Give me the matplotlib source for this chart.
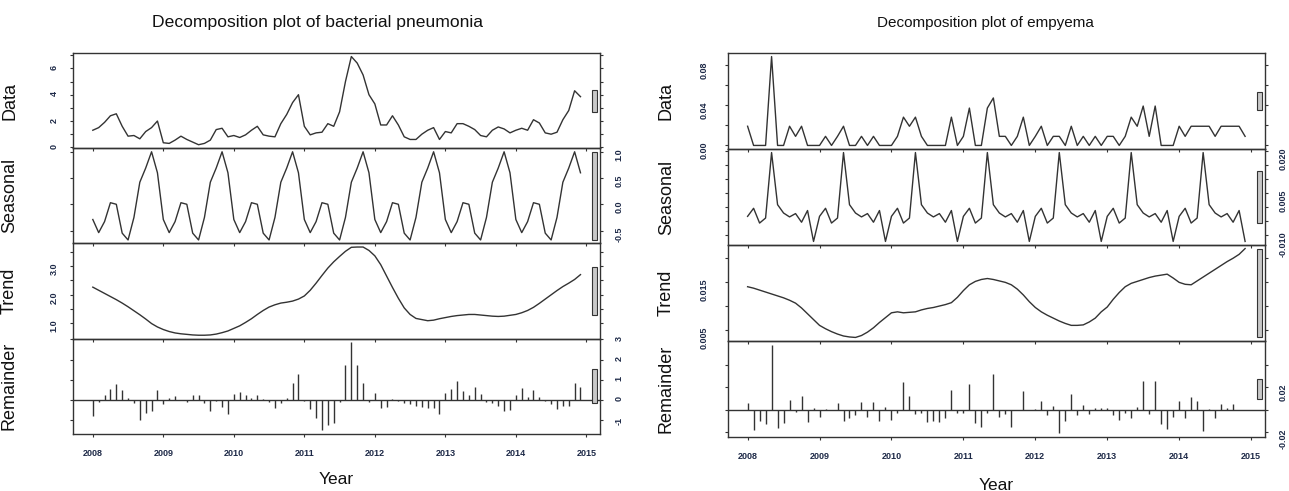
"""STL decomposition plots: bacterial pneumonia and empyema, 2008-2014 monthly"""

import matplotlib
matplotlib.use("Agg")
import matplotlib.pyplot as plt
import matplotlib.transforms as mtransforms
from matplotlib.patches import Rectangle
from matplotlib.ticker import FixedLocator, FuncFormatter
import numpy as np

plt.rcParams["font.family"] = ["Liberation Sans", "DejaVu Sans"]

# ---- data (monthly, Jan 2008 .. Dec 2014) ----
year_ticks = [2008, 2009, 2010, 2011, 2012, 2013, 2014, 2015]
panel_names = ["Data", "Seasonal", "Trend", "Remainder"]

pneu_data = [
    1.30, 1.50, 1.90, 2.40, 2.55, 1.60, 0.85, 0.90, 0.65, 1.20, 1.50, 2.00,
    0.35, 0.30, 0.55, 0.85, 0.60, 0.40, 0.20, 0.30, 0.55, 1.35, 1.45, 0.80,
    0.90, 0.75, 0.95, 1.30, 1.60, 0.95, 0.85, 0.80, 1.80, 2.50, 3.40, 4.00,
    1.60, 0.95, 1.10, 1.15, 1.80, 1.60, 2.70, 5.00, 6.90, 6.40, 5.50, 4.00,
    3.30, 1.70, 1.70, 2.40, 1.70, 0.80, 0.60, 0.60, 1.00, 1.30, 1.50, 0.60,
    1.20, 1.10, 1.80, 1.80, 1.60, 1.35, 0.90, 0.80, 1.30, 1.55, 1.40, 1.10,
    1.30, 1.45, 1.30, 2.10, 1.85, 1.10, 1.00, 1.15, 2.10, 2.80, 4.30, 3.85,
]
pneu_seasonal = [
    -0.29, -0.54, -0.33, 0.03, 0.00, -0.55, -0.68, -0.25, 0.42, 0.69, 1.00, 0.60,
    -0.29, -0.54, -0.33, 0.03, 0.00, -0.55, -0.68, -0.25, 0.42, 0.69, 1.00, 0.60,
    -0.29, -0.54, -0.33, 0.03, 0.00, -0.55, -0.68, -0.25, 0.42, 0.69, 1.00, 0.60,
    -0.29, -0.54, -0.33, 0.03, 0.00, -0.55, -0.68, -0.25, 0.42, 0.69, 1.00, 0.60,
    -0.29, -0.54, -0.33, 0.03, 0.00, -0.55, -0.68, -0.25, 0.42, 0.69, 1.00, 0.60,
    -0.29, -0.54, -0.33, 0.03, 0.00, -0.55, -0.68, -0.25, 0.42, 0.69, 1.00, 0.60,
    -0.29, -0.54, -0.33, 0.03, 0.00, -0.55, -0.68, -0.25, 0.42, 0.69, 1.00, 0.60,
]
pneu_trend = [
    2.26, 2.15, 2.04, 1.93, 1.82, 1.70, 1.57, 1.43, 1.29, 1.14, 0.98, 0.86,
    0.77, 0.70, 0.65, 0.62, 0.60, 0.58, 0.57, 0.57, 0.58, 0.61, 0.66, 0.72,
    0.81, 0.90, 1.02, 1.15, 1.30, 1.44, 1.56, 1.64, 1.70, 1.73, 1.77, 1.84,
    1.95, 2.15, 2.40, 2.67, 2.93, 3.15, 3.34, 3.52, 3.66, 3.67, 3.67, 3.55,
    3.36, 3.05, 2.65, 2.25, 1.87, 1.53, 1.30, 1.16, 1.12, 1.08, 1.10, 1.15,
    1.19, 1.23, 1.26, 1.28, 1.30, 1.30, 1.28, 1.26, 1.24, 1.23, 1.24, 1.27,
    1.30, 1.36, 1.44, 1.55, 1.69, 1.84, 1.99, 2.14, 2.28, 2.40, 2.53, 2.70,
]
pneu_remainder = [
    -0.78, -0.12, 0.22, 0.55, 0.80, 0.47, 0.08, -0.17, -0.98, -0.63, -0.55, 0.50,
    -0.23, 0.08, 0.17, 0.00, -0.12, 0.22, 0.22, -0.17, -0.55, -0.05, -0.35, -0.70,
    0.27, 0.37, 0.24, 0.08, 0.24, 0.02, -0.09, -0.38, -0.16, 0.08, 0.86, 1.29,
    -0.06, -0.43, -0.92, -1.52, -1.27, -1.17, -0.11, 1.74, 2.86, 1.71, 0.86, -0.13,
    0.33, -0.41, -0.36, 0.04, -0.06, -0.16, -0.19, -0.29, -0.36, -0.41, -0.41, -0.72,
    0.33, 0.53, 0.96, 0.43, 0.24, 0.63, 0.31, -0.13, -0.18, -0.31, -0.56, -0.48,
    0.24, 0.57, 0.12, 0.51, 0.12, -0.06, -0.21, -0.46, -0.31, -0.28, 0.86, 0.63,
]

emp_data = [
    0.019, 0.000, 0.000, 0.000, 0.088, 0.000, 0.000, 0.019, 0.009, 0.019, 0.000, 0.000,
    0.000, 0.009, 0.000, 0.009, 0.019, 0.000, 0.000, 0.009, 0.000, 0.009, 0.000, 0.000,
    0.000, 0.009, 0.028, 0.019, 0.028, 0.009, 0.000, 0.000, 0.000, 0.000, 0.028, 0.000,
    0.009, 0.037, 0.000, 0.000, 0.037, 0.047, 0.009, 0.009, 0.000, 0.009, 0.028, 0.000,
    0.009, 0.019, 0.000, 0.009, 0.009, 0.000, 0.019, 0.000, 0.009, 0.000, 0.009, 0.000,
    0.009, 0.009, 0.000, 0.009, 0.028, 0.019, 0.039, 0.009, 0.039, 0.000, 0.000, 0.000,
    0.019, 0.009, 0.019, 0.019, 0.019, 0.019, 0.009, 0.019, 0.019, 0.019, 0.019, 0.009,
]
emp_seasonal = [
    -0.0034, -0.0005, -0.0058, -0.0040, 0.0195, 0.0008, -0.0022, -0.0036, -0.0024, -0.0055, -0.0013, -0.0124,
    -0.0034, -0.0005, -0.0058, -0.0040, 0.0195, 0.0008, -0.0022, -0.0036, -0.0024, -0.0055, -0.0013, -0.0124,
    -0.0034, -0.0005, -0.0058, -0.0040, 0.0195, 0.0008, -0.0022, -0.0036, -0.0024, -0.0055, -0.0013, -0.0124,
    -0.0034, -0.0005, -0.0058, -0.0040, 0.0195, 0.0008, -0.0022, -0.0036, -0.0024, -0.0055, -0.0013, -0.0124,
    -0.0034, -0.0005, -0.0058, -0.0040, 0.0195, 0.0008, -0.0022, -0.0036, -0.0024, -0.0055, -0.0013, -0.0124,
    -0.0034, -0.0005, -0.0058, -0.0040, 0.0195, 0.0008, -0.0022, -0.0036, -0.0024, -0.0055, -0.0013, -0.0124,
    -0.0034, -0.0005, -0.0058, -0.0040, 0.0195, 0.0008, -0.0022, -0.0036, -0.0024, -0.0055, -0.0013, -0.0124,
]
emp_trend = [
    0.0140, 0.0137, 0.0133, 0.0129, 0.0125, 0.0121, 0.0117, 0.0112, 0.0106, 0.0096, 0.0084, 0.0072,
    0.0060, 0.0053, 0.0047, 0.0042, 0.0038, 0.0036, 0.0035, 0.0039, 0.0046, 0.0055, 0.0066, 0.0076,
    0.0086, 0.0088, 0.0086, 0.0087, 0.0088, 0.0092, 0.0095, 0.0097, 0.0100, 0.0103, 0.0107, 0.0118,
    0.0132, 0.0144, 0.0151, 0.0155, 0.0157, 0.0155, 0.0152, 0.0149, 0.0144, 0.0135, 0.0123, 0.0109,
    0.0097, 0.0088, 0.0081, 0.0075, 0.0069, 0.0064, 0.0060, 0.0060, 0.0061, 0.0067, 0.0075, 0.0088,
    0.0098, 0.0114, 0.0128, 0.0140, 0.0147, 0.0151, 0.0155, 0.0159, 0.0162, 0.0164, 0.0166, 0.0158,
    0.0149, 0.0145, 0.0144, 0.0152, 0.0160, 0.0168, 0.0176, 0.0184, 0.0192, 0.0199, 0.0207, 0.0219,
]
emp_remainder = [
    0.0060, -0.0180, -0.0100, -0.0130, 0.0580, -0.0160, -0.0120, 0.0090, -0.0015, 0.0120, -0.0110, 0.0020,
    -0.0060, 0.0010, -0.0006, 0.0065, -0.0095, -0.0075, -0.0050, 0.0070, -0.0060, 0.0070, -0.0095, 0.0025,
    -0.0090, -0.0030, 0.0245, 0.0125, -0.0035, -0.0030, -0.0110, -0.0095, -0.0110, -0.0075, 0.0180, -0.0025,
    -0.0030, 0.0230, -0.0120, -0.0150, -0.0030, 0.0317, -0.0060, -0.0035, -0.0150, 0.0000, 0.0170, -0.0006,
    0.0006, 0.0080, -0.0045, 0.0035, -0.0210, -0.0100, 0.0140, -0.0050, 0.0040, -0.0035, 0.0018, 0.0018,
    0.0018, -0.0050, -0.0090, -0.0030, -0.0075, 0.0024, 0.0260, -0.0035, 0.0260, -0.0130, -0.0170, -0.0060,
    0.0074, -0.0075, 0.0110, 0.0074, -0.0187, 0.0006, -0.0077, 0.0050, 0.0020, 0.0050, -0.0006, -0.0006,
]

# y-axis ticks per panel: (tick positions, labelled positions, format)
pneu_axes = [
    ([0, 1, 2, 3, 4, 5, 6, 7], [0, 2, 4, 6], "%d"),
    ([-0.5, 0.0, 0.5, 1.0], [-0.5, 0.0, 0.5, 1.0], "%.1f"),
    ([1.0, 1.5, 2.0, 2.5, 3.0, 3.5], [1.0, 2.0, 3.0], "%.1f"),
    ([-1, 0, 1, 2, 3], [-1, 0, 1, 2, 3], "%d"),
]
emp_axes = [
    ([0.0, 0.02, 0.04, 0.06, 0.08], [0.0, 0.04, 0.08], "%.2f"),
    ([-0.010, -0.005, 0.0, 0.005, 0.010, 0.015, 0.020], [-0.010, 0.005, 0.020], "%.3f"),
    ([0.005, 0.010, 0.015, 0.020], [0.005, 0.015], "%.3f"),
    ([-0.02, 0.0, 0.02, 0.04], [-0.02, 0.02], "%.2f"),
]

LINE = "#333333"
TICKCOL = "#1e2a48"
W, H = 1289, 491
START = year_ticks[0]


def make_formatter(labelled, fmt):
    def f(v, _):
        for lab in labelled:
            if abs(v - lab) < 1e-9:
                return fmt % lab
        return ""
    return FuncFormatter(f)


def draw_stl(fig, x0, x1, y0, y1, series, axes_cfg, ylab_x, lpad, rpad):
    """x0,x1,y0,y1 in pixels (y from top)"""
    t = START + np.arange(len(series[0])) / 12.0
    ranges = [(min(s), max(s)) for s in series]
    bar_len = min(hi - lo for lo, hi in ranges)
    ph = (y1 - y0) / 4.0
    for i, s in enumerate(series):
        top = y0 + i * ph
        ax = fig.add_axes([x0 / W, 1 - (top + ph) / H, (x1 - x0) / W, ph / H])
        ax.patch.set_visible(False)
        if i < 3:
            ax.plot(t, s, color=LINE, linewidth=1.0)
        else:
            ax.vlines(t, 0, s, color=LINE, linewidth=1.0)
            ax.axhline(0, color=LINE, linewidth=1.0)
        lo, hi = ranges[i]
        pad = 0.04 * (hi - lo)
        ax.set_ylim(lo - pad, hi + pad)
        tpad = 0.04 * (t[-1] - t[0])
        ax.set_xlim(t[0] - tpad, t[-1] + tpad)

        # range bar (same length in data units on every panel)
        mid = (lo + hi) / 2.0
        trans = mtransforms.blended_transform_factory(ax.transAxes, ax.transData)
        ax.add_patch(Rectangle((1 - 1 / 64.0, mid - bar_len / 2.0), 0.6 / 64.0, bar_len,
                               transform=trans, facecolor="#c8c8c8", edgecolor=LINE,
                               linewidth=0.8, zorder=3))

        ticks, labelled, fmt = axes_cfg[i]
        ax.yaxis.set_major_locator(FixedLocator(ticks))
        ax.yaxis.set_major_formatter(make_formatter(labelled, fmt))
        ax.xaxis.set_major_locator(FixedLocator(year_ticks))
        ax.xaxis.set_major_formatter(FuncFormatter(lambda v, _: "%d" % v))

        right = i % 2 == 1
        ax.tick_params(axis="y", direction="out", length=2.5, width=0.8, color=LINE,
                       left=True, right=True, labelleft=not right, labelright=right,
                       labelrotation=90, labelsize=6.5, labelcolor=TICKCOL,
                       pad=rpad if right else lpad)
        ax.tick_params(axis="x", direction="out", length=2.5, width=0.8, color=LINE,
                       bottom=True, top=False, labelbottom=(i == 3),
                       labelsize=6.5, labelcolor=TICKCOL, pad=8)
        for lab in ax.get_yticklabels() + ax.get_xticklabels():
            lab.set_fontweight("bold")
        for sp in ax.spines.values():
            sp.set_color(LINE)
            sp.set_linewidth(1.0)

        ax.set_ylabel(panel_names[i], fontsize=13, color="#111111")
        ax.yaxis.set_label_coords((ylab_x - x0) / (x1 - x0), 0.5)
    return (x0 + x1) / 2.0


fig = plt.figure(figsize=(W / 100, H / 100), dpi=100)
fig.patch.set_facecolor("white")

cx_left = draw_stl(fig, 73.3, 600, 53, 434,
                   [pneu_data, pneu_seasonal, pneu_trend, pneu_remainder], pneu_axes,
                   ylab_x=18, lpad=8, rpad=8)
cx_right = draw_stl(fig, 727.7, 1265, 53, 437,
                    [emp_data, emp_seasonal, emp_trend, emp_remainder], emp_axes,
                    ylab_x=675, lpad=11, rpad=7)

fig.text(318 / W, 1 - 23 / H, "Decomposition plot of bacterial pneumonia",
         ha="center", va="center", fontsize=12.6, color="#111111")
fig.text(985 / W, 1 - 23 / H, "Decomposition plot of empyema",
         ha="center", va="center", fontsize=11, color="#111111")
fig.text(cx_left / W, 1 - 480 / H, "Year", ha="center", va="center",
         fontsize=12.5, color="#111111")
fig.text(cx_right / W, 1 - 485 / H, "Year", ha="center", va="center",
         fontsize=12.5, color="#111111")

fig.savefig("out.png", dpi=100, facecolor="white")
plt.close(fig)
